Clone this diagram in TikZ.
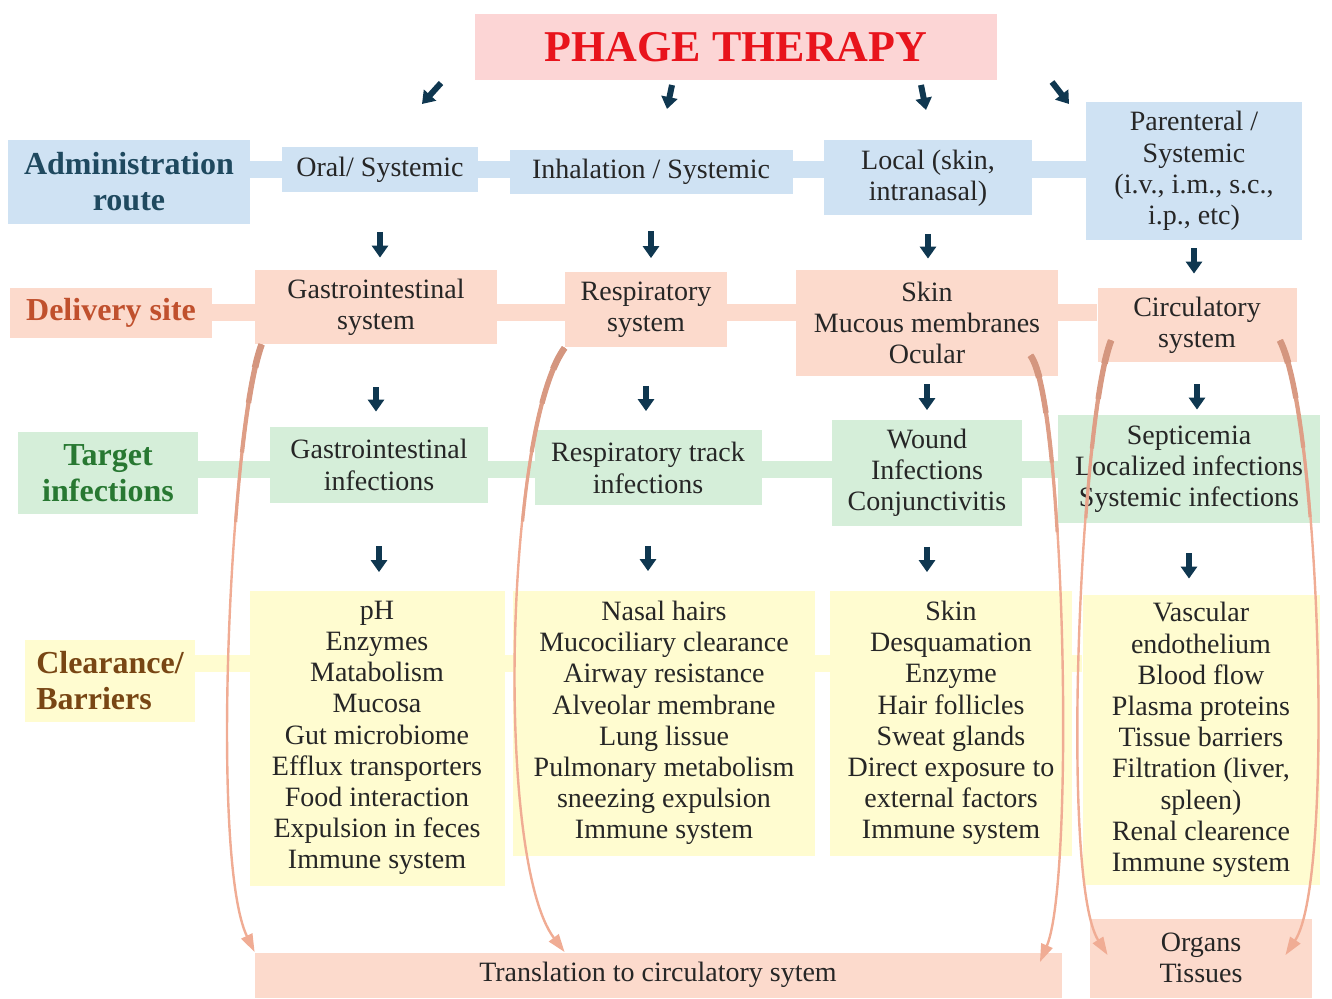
\documentclass[tikz,border=0pt]{standalone}
\usepackage{fontspec}
\setmainfont{Liberation Serif}
\usetikzlibrary{arrows.meta,backgrounds}

\definecolor{routeblue}{RGB}{207,226,243}
\definecolor{sitepeach}{RGB}{252,218,204}
\definecolor{targetgreen}{RGB}{213,238,217}
\definecolor{barrieryellow}{RGB}{255,252,208}
\definecolor{titlepink}{RGB}{252,213,213}
\definecolor{titlered}{RGB}{232,20,28}
\definecolor{routetext}{RGB}{31,73,95}
\definecolor{sitetext}{RGB}{192,80,45}
\definecolor{targettext}{RGB}{40,120,50}
\definecolor{barriertext}{RGB}{120,70,20}
\definecolor{navy}{RGB}{15,55,80}
\definecolor{flowline}{RGB}{240,172,148}
\definecolor{flowdark}{RGB}{212,150,127}

\tikzset{
  box/.style={fill=#1,inner sep=2pt,align=center,text=black!85,
    font=\fontsize{14}{15.6}\selectfont},
  head/.style={fill=#1,inner sep=2pt,align=center,
    font=\fontsize{16}{18}\selectfont\bfseries},
  band/.style={#1,line width=8.5pt},
  blk/.style={navy,line width=3pt,-{Triangle[width=8pt,length=6pt]}},
  flow/.style={flowline,line width=1.2pt,-{Triangle[width=6pt,length=9pt]},
    postaction={draw,flowdark!40!flowline,-,line width=1.6pt,dash pattern=on 90pt off 2000pt},
    postaction={draw,flowdark!65!flowline,-,line width=2.1pt,dash pattern=on 55pt off 2000pt},
    postaction={draw,flowdark!85!flowline,-,line width=2.7pt,dash pattern=on 30pt off 2000pt},
    postaction={draw,flowdark,-,line width=3.3pt,dash pattern=on 12pt off 2000pt}}
}

\begin{document}
\begin{tikzpicture}[x=0.5pt,y=-0.5pt]
    \useasboundingbox (0,0) rectangle (1332,999);
    \node[fill=titlepink,minimum width=261pt,minimum height=33pt,text=titlered,
      font=\fontsize{22}{26}\selectfont\bfseries] (title) at (736,47) {PHAGE THERAPY};

    % administration route
    \node[head=routeblue,text=routetext,minimum width=121pt,minimum height=42pt] (admin) at (129,182) {Administration\\route};
    \node[box=routeblue,minimum width=98pt,minimum height=22.5pt] (oral) at (380,170) {Oral/ Systemic};
    \node[box=routeblue,minimum width=141.5pt,minimum height=22pt] (inhal) at (651,172) {Inhalation / Systemic};
    \node[box=routeblue,minimum width=104pt,minimum height=37.5pt] (local) at (928,178) {Local (skin,\\intranasal)};
    \node[box=routeblue,minimum width=108pt,minimum height=69pt] (parent) at (1194,171) {Parenteral /\\Systemic\\(i.v., i.m., s.c.,\\i.p., etc)};

    % delivery site
    \node[head=sitepeach,text=sitetext,minimum width=101pt,minimum height=25pt] (deliv) at (111,313) {Delivery site};
    \node[box=sitepeach,minimum width=121pt,minimum height=37pt] (gasD) at (376,307) {Gastrointestinal\\system};
    \node[box=sitepeach,minimum width=81pt,minimum height=37.5pt] (resp) at (646,310) {Respiratory\\system};
    \node[box=sitepeach,minimum width=131pt,minimum height=53pt] (skin) at (927,323) {Skin\\Mucous membranes\\Ocular};
    \node[box=sitepeach,minimum width=99.5pt,minimum height=37pt] (circ) at (1197,325) {Circulatory\\system};

    % target infections
    \node[head=targetgreen,text=targettext,minimum width=90pt,minimum height=41pt] (target) at (108,473) {Target\\infections};
    \node[box=targetgreen,minimum width=109pt,minimum height=38pt] (gasI) at (379,465) {Gastrointestinal\\infections};
    \node[box=targetgreen,minimum width=113.5pt,minimum height=37.5pt] (respI) at (648,468) {Respiratory track\\infections};
    \node[box=targetgreen,minimum width=95pt,minimum height=52.5pt] (wound) at (927,473) {Wound\\Infections\\Conjunctivitis};
    \node[box=targetgreen,minimum width=131pt,minimum height=54pt] (sept) at (1189,469) {Septicemia\\Localized infections\\Systemic infections};

    % clearance / barriers
    \node[head=barrieryellow,text=barriertext,align=left,minimum width=85pt,minimum height=41pt] (clear) at (110,681) {Clearance/\\Barriers};
    \node[box=barrieryellow,minimum width=127.5pt,minimum height=147.5pt] (phL) at (377,738)
      {pH\\Enzymes\\Matabolism\\Mucosa\\Gut microbiome\\Efflux transporters\\Food interaction\\Expulsion in feces\\Immune system};
    \node[box=barrieryellow,minimum width=151pt,minimum height=132.5pt] (nasalL) at (664,723)
      {Nasal hairs\\Mucociliary clearance\\Airway resistance\\Alveolar membrane\\Lung lissue\\Pulmonary metabolism\\sneezing expulsion\\Immune system};
    \node[box=barrieryellow,minimum width=121pt,minimum height=132.5pt] (skinL) at (951,723)
      {Skin\\Desquamation\\Enzyme\\Hair follicles\\Sweat glands\\Direct exposure to\\external factors\\Immune system};
    \node[box=barrieryellow,minimum width=118.5pt,minimum height=145pt] (vascL) at (1201,740)
      {Vascular\\endothelium\\Blood flow\\Plasma proteins\\Tissue barriers\\Filtration (liver,\\spleen)\\Renal clearence\\Immune system};

    % bottom
    \node[box=sitepeach,minimum width=403.5pt,minimum height=22.5pt] (trans) at (658,975) {Translation to circulatory sytem};
    \node[box=sitepeach,minimum width=111pt,minimum height=39.5pt] (organs) at (1201,958) {Organs\\Tissues};

    \begin{scope}[on background layer]
      \draw[band=routeblue] (admin.east |- oral) -- (parent.west |- oral);
      \draw[band=sitepeach] (deliv.east) -- (circ.west |- deliv);
      \draw[band=targetgreen] ([yshift=1.5pt]target.east) -- ([yshift=1.5pt]target.east -| sept.west);
      \draw[band=barrieryellow] ([yshift=9pt]clear.east) -- ([yshift=9pt]clear.east -| vascL.west);
    \end{scope}

    % small arrows
    \foreach \n/\ax/\ay/\bx/\by in {1/441/83/422/104,2/672/85/667/109,3/921/85/926/110,4/1052/82/1069/104}{
      \coordinate (s\n) at (\ax,\ay);
      \coordinate (e\n) at (\bx,\by);
      \draw[blk] (s\n) -- (e\n);
    }
    \foreach \a/\b/\s/\e in {oral/gasD/19.5pt/6pt,inhal/resp/18.5pt/7pt,local/skin/9pt/5.5pt,parent/circ/4pt/7pt,
      gasD/gasI/21.5pt/7.5pt,resp/respI/19pt/9.5pt,skin/wound/4pt/5pt,circ/sept/11pt/2.5pt,
      gasI/phL/21.5pt/9pt,respI/nasalL/20pt/9.5pt,wound/skinL/10.5pt/9pt,sept/vascL/15pt/8pt}
      \draw[blk,shorten <=\s,shorten >=\e] (\a.south) -- (\a.south |- \b.north);

    % flows to the circulation
    \draw[flow] ([xshift=3.5pt]gasD.south west) .. controls (230,430) and (210,860) .. (gasD.south west |- trans.north);
    \draw[flow] (resp.south west) .. controls (505,430) and (495,860) .. (resp.south west |- trans.north);
    \draw[flow] ([xshift=-14pt,yshift=10.5pt]skin.south east) .. controls (1065,400) and (1075,880) .. ([xshift=-11pt,yshift=-5pt]trans.north east);
    \draw[flow] ([xshift=7pt,yshift=11pt]circ.south west) .. controls (1080,420) and (1060,880) .. ([xshift=9pt,yshift=-18.5pt]organs.north west);
    \draw[flow] ([xshift=-8.5pt,yshift=11pt]circ.south east) .. controls (1320,420) and (1335,880) .. ([xshift=-13.5pt,yshift=-18.5pt]organs.north east);
\end{tikzpicture}
\end{document}
